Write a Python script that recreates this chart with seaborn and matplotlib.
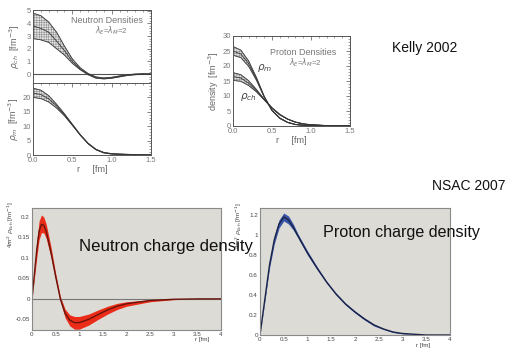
import numpy as np
import pandas as pd
import matplotlib
matplotlib.use("Agg")
import matplotlib.pyplot as plt
import seaborn as sns

# ---------------- data ----------------
# Kelly 2002 - neutron charge density rho_ch
kn_r = [0.0, 0.1, 0.2, 0.3, 0.4, 0.5, 0.6, 0.7, 0.8, 0.9, 1.0, 1.1, 1.2, 1.3, 1.4, 1.5]
kn_ch = [3.8, 3.6, 3.3, 2.6, 1.85, 1.0, 0.4, 0.0, -0.27, -0.34, -0.29, -0.18, -0.08, -0.02, 0.01, 0.0]
kn_ch_hi = [4.8, 4.6, 4.1, 3.3, 2.2, 1.2, 0.5, 0.05, -0.22, -0.3, -0.25, -0.14, -0.05, 0.01, 0.03, 0.02]
kn_ch_lo = [2.8, 2.7, 2.5, 2.0, 1.5, 0.85, 0.35, -0.05, -0.32, -0.38, -0.33, -0.22, -0.11, -0.05, -0.02, -0.02]
# Kelly 2002 - neutron magnetization density rho_m
kn_m = [21.5, 21.0, 19.5, 17.0, 14.0, 10.5, 7.0, 4.0, 1.9, 0.8, 0.4, 0.3, 0.2, 0.1, 0.05, 0.0]
kn_m_hi = [23.2, 22.5, 20.6, 17.6, 14.3, 10.7, 7.1, 4.1, 2.0, 0.9, 0.5, 0.35, 0.25, 0.15, 0.08, 0.03]
kn_m_lo = [20.0, 19.6, 18.4, 16.3, 13.6, 10.3, 6.9, 3.9, 1.8, 0.7, 0.3, 0.2, 0.12, 0.05, 0.02, 0.0]
# Kelly 2002 - proton densities
kp_r = [0.0, 0.1, 0.2, 0.3, 0.4, 0.5, 0.6, 0.7, 0.8, 0.9, 1.0, 1.2, 1.5]
kp_m = [25.0, 24.0, 20.8, 15.8, 9.8, 5.2, 2.6, 1.2, 0.5, 0.25, 0.1, 0.03, 0.0]
kp_m_hi = [26.5, 25.3, 21.7, 16.2, 9.9, 5.3, 2.7, 1.25, 0.55, 0.3, 0.12, 0.05, 0.01]
kp_m_lo = [23.6, 22.8, 19.9, 15.3, 9.6, 5.1, 2.5, 1.15, 0.45, 0.2, 0.08, 0.02, 0.0]
kp_ch = [16.5, 16.0, 14.3, 11.8, 8.8, 6.0, 3.8, 2.3, 1.3, 0.7, 0.4, 0.15, 0.02]
kp_ch_hi = [17.8, 17.1, 15.1, 12.2, 8.9, 6.1, 3.9, 2.35, 1.35, 0.75, 0.45, 0.17, 0.03]
kp_ch_lo = [15.2, 14.9, 13.5, 11.4, 8.7, 5.9, 3.7, 2.25, 1.25, 0.65, 0.35, 0.13, 0.01]

# NSAC 2007 - neutron charge density 4 pi r^2 rho
nn_r = [0.0, 0.05, 0.1, 0.15, 0.2, 0.25, 0.3, 0.4, 0.5, 0.6, 0.7, 0.8, 0.9, 1.0,
        1.2, 1.4, 1.6, 1.8, 2.0, 2.5, 3.0, 3.5, 4.0]
nn_c = [0.0, 0.06, 0.12, 0.165, 0.182, 0.18, 0.165, 0.115, 0.055, 0.0, -0.035, -0.052,
        -0.058, -0.058, -0.05, -0.038, -0.027, -0.018, -0.012, -0.004, -0.001, 0.0, 0.0]
nn_hi = [0.0, 0.07, 0.14, 0.19, 0.205, 0.2, 0.183, 0.128, 0.063, 0.006, -0.025, -0.039,
         -0.043, -0.043, -0.037, -0.027, -0.018, -0.011, -0.007, -0.002, 0.0, 0.0, 0.0]
nn_lo = [0.0, 0.05, 0.1, 0.145, 0.162, 0.161, 0.148, 0.102, 0.047, -0.007, -0.046, -0.066,
         -0.074, -0.074, -0.064, -0.05, -0.037, -0.026, -0.018, -0.007, -0.002, 0.0, 0.0]
# NSAC 2007 - proton charge density 4 pi r^2 rho
np_r = [0.0, 0.1, 0.2, 0.3, 0.4, 0.5, 0.6, 0.7, 0.8, 1.0, 1.2, 1.4, 1.6, 1.8, 2.0,
        2.2, 2.4, 2.6, 2.8, 3.0, 3.5, 4.0]
np_c = [0.0, 0.35, 0.7, 0.95, 1.11, 1.18, 1.15, 1.08, 0.99, 0.82, 0.67, 0.53, 0.41, 0.31,
        0.23, 0.16, 0.1, 0.06, 0.03, 0.015, 0.0, 0.0]
np_hi = [0.0, 0.37, 0.73, 0.99, 1.15, 1.22, 1.19, 1.11, 1.01, 0.84, 0.685, 0.54, 0.42, 0.32,
         0.24, 0.17, 0.11, 0.065, 0.035, 0.018, 0.0, 0.0]
np_lo = [0.0, 0.33, 0.67, 0.91, 1.07, 1.14, 1.11, 1.05, 0.97, 0.80, 0.655, 0.52, 0.40, 0.30,
         0.22, 0.15, 0.09, 0.055, 0.025, 0.012, 0.0, 0.0]

# ---------------- figure ----------------
sns.set_theme(style="white")
plt.rcParams["font.family"] = ["Liberation Sans", "DejaVu Sans"]
plt.rcParams["hatch.linewidth"] = 0.3
plt.rcParams["mathtext.fontset"] = "dejavusans"

W, H = 521, 352
fig = plt.figure(figsize=(W / 100, H / 100), dpi=100)
fig.patch.set_facecolor("white")


def add_ax(l, t, r, b):
    return fig.add_axes([l / W, 1 - b / H, (r - l) / W, (b - t) / H])


def kelly_style(ax, xt, yt):
    ax.set_facecolor("white")
    for s in ax.spines.values():
        s.set_color("#555555")
        s.set_linewidth(0.7)
    ax.tick_params(direction="in", top=True, right=True, length=3, width=0.5,
                   colors="#555555", labelsize=5.5, pad=1.5, labelcolor="#777777")
    ax.minorticks_on()
    ax.tick_params(which="minor", direction="in", top=True, right=True, length=1.5, width=0.4,
                   colors="#555555")
    ax.set_xticks(xt)
    ax.set_yticks(yt)


def nsac_style(ax):
    ax.set_facecolor("#dddbd5")
    for s in ax.spines.values():
        s.set_color("#8a8a8a")
        s.set_linewidth(0.8)
    ax.tick_params(direction="in", length=3, width=0.5, colors="#555555",
                   labelsize=4.5, pad=1.5, labelcolor="#444444")
    ax.minorticks_on()
    ax.tick_params(which="minor", direction="in", length=1.5, width=0.4, colors="#555555")


def band(ax, x, lo, hi, c, lo_hi_style="hatch"):
    if lo_hi_style == "hatch":
        ax.fill_between(x, lo, hi, facecolor="#e4e4e4", edgecolor="#777777", hatch="+++++++",
                        linewidth=0.5)
        ax.plot(x, lo, color="#444444", lw=0.6)
        ax.plot(x, hi, color="#444444", lw=0.6)
    else:
        ax.fill_between(x, lo, hi, color=c, linewidth=0)


# --- Kelly neutron top ---
ax1 = add_ax(33, 10, 151, 83)
kelly_style(ax1, [0, 0.5, 1.0, 1.5], [0, 1, 2, 3, 4, 5])
ax1.axhline(0, color="#555555", lw=0.8)
band(ax1, kn_r, kn_ch_lo, kn_ch_hi, None)
sns.lineplot(x=kn_r, y=kn_ch, ax=ax1, color="#333333", lw=0.6)
ax1.set_xlim(0, 1.5)
ax1.set_ylim(-0.7, 5.05)
ax1.set_xticklabels([])
ax1.set_ylabel(r"$\rho_{ch}$  [fm$^{-3}$]", fontsize=6.5, color="#666666", labelpad=3)
ax1.text(0.63, 0.86, "Neutron Densities", transform=ax1.transAxes, fontsize=6.5,
         color="#777777", ha="center", va="center")
ax1.text(0.66, 0.71, r"$\lambda_E$=$\lambda_M$=2", transform=ax1.transAxes, fontsize=5.5,
         color="#777777", ha="center", va="center")

# --- Kelly neutron bottom ---
ax2 = add_ax(33, 83, 151, 155)
kelly_style(ax2, [0, 0.5, 1.0, 1.5], [0, 5, 10, 15, 20])
band(ax2, kn_r, kn_m_lo, kn_m_hi, None)
sns.lineplot(x=kn_r, y=kn_m, ax=ax2, color="#333333", lw=0.6)
ax2.set_xlim(0, 1.5)
ax2.set_ylim(0, 25)
ax2.set_xticklabels(["0.0", "0.5", "1.0", "1.5"])
ax2.set_ylabel(r"$\rho_m$  [fm$^{-3}$]", fontsize=6.5, color="#666666", labelpad=1)
ax2.set_xlabel("r     [fm]", fontsize=6.5, color="#666666", labelpad=1)

# --- Kelly proton ---
ax3 = add_ax(233, 36, 350, 126)
kelly_style(ax3, [0, 0.5, 1.0, 1.5], [0, 5, 10, 15, 20, 25, 30])
band(ax3, kp_r, kp_m_lo, kp_m_hi, None)
band(ax3, kp_r, kp_ch_lo, kp_ch_hi, None)
sns.lineplot(x=kp_r, y=kp_m, ax=ax3, color="#333333", lw=0.6)
sns.lineplot(x=kp_r, y=kp_ch, ax=ax3, color="#333333", lw=0.6)
ax3.set_xlim(0, 1.5)
ax3.set_ylim(0, 30)
ax3.set_xticklabels(["0.0", "0.5", "1.0", "1.5"])
ax3.set_ylabel(r"density  [fm$^{-3}$]", fontsize=6.5, color="#666666", labelpad=1)
ax3.set_xlabel("r     [fm]", fontsize=6.5, color="#666666", labelpad=1)
ax3.text(0.6, 0.82, "Proton Densities", transform=ax3.transAxes, fontsize=6.5,
         color="#777777", ha="center", va="center")
ax3.text(0.62, 0.7, r"$\lambda_E$=$\lambda_M$=2", transform=ax3.transAxes, fontsize=5.5,
         color="#777777", ha="center", va="center")
ax3.text(0.27, 0.64, r"$\rho_m$", transform=ax3.transAxes, fontsize=7.5,
         color="#444444", ha="center", va="center")
ax3.text(0.13, 0.32, r"$\rho_{ch}$", transform=ax3.transAxes, fontsize=7.5,
         color="#444444", ha="center", va="center")

# --- NSAC neutron ---
ax4 = add_ax(32, 208, 221, 330)
nsac_style(ax4)
ax4.axhline(0, color="#777777", lw=0.8)
band(ax4, nn_r, nn_lo, nn_hi, "#ea2c18", "fill")
sns.lineplot(x=nn_r, y=nn_c, ax=ax4, color="#6a140c", lw=1.0)
ax4.set_xlim(0, 4)
ax4.set_ylim(-0.076, 0.222)
ax4.set_xticks([0, 0.5, 1, 1.5, 2, 2.5, 3, 3.5, 4])
ax4.set_xticklabels(["0", "0.5", "1", "1.5", "2", "2.5", "3", "3.5", "4"])
ax4.set_yticks([-0.05, 0, 0.05, 0.1, 0.15, 0.2])
ax4.set_yticklabels(["-0.05", "0", "0.05", "0.1", "0.15", "0.2"])
ax4.set_ylabel(r"4$\pi$r$^2$ $\rho_{Ech}$ [fm$^{-1}$]", fontsize=4.5, color="#444444",
               labelpad=2)
ax4.yaxis.set_label_coords(-0.085, 0.86)
ax4.set_xlabel("r [fm]", fontsize=4.5, color="#444444", labelpad=0)
ax4.xaxis.set_label_coords(0.9, -0.06)

# --- NSAC proton ---
ax5 = add_ax(260, 208, 450, 335)
nsac_style(ax5)
band(ax5, np_r, np_lo, np_hi, "#3a55a8", "fill")
sns.lineplot(x=np_r, y=np_c, ax=ax5, color="#1a2448", lw=1.0)
ax5.set_xlim(0, 4)
ax5.set_ylim(0, 1.27)
ax5.set_xticks([0, 0.5, 1, 1.5, 2, 2.5, 3, 3.5, 4])
ax5.set_xticklabels(["0", "0.5", "1", "1.5", "2", "2.5", "3", "3.5", "4"])
ax5.set_yticks([0, 0.2, 0.4, 0.6, 0.8, 1.0, 1.2])
ax5.set_yticklabels(["0", "0.2", "0.4", "0.6", "0.8", "1", "1.2"])
ax5.set_ylabel(r"4$\pi$r$^2$ $\rho_{Ech}$ [fm$^{-1}$]", fontsize=4.5, color="#444444")
ax5.yaxis.set_label_coords(-0.085, 0.86)
ax5.set_xlabel("r [fm]", fontsize=4.5, color="#444444", labelpad=0)
ax5.xaxis.set_label_coords(0.86, -0.06)

# --- big annotations ---
fig.text(79 / W, 1 - 247 / H, "Neutron charge density", fontsize=12.1, color="#111111",
         ha="left", va="center", zorder=10)
fig.text(323 / W, 1 - 233 / H, "Proton charge density", fontsize=11.6, color="#111111",
         ha="left", va="center", zorder=10)
fig.text(392 / W, 1 - 48 / H, "Kelly 2002", fontsize=10, color="#111111",
         ha="left", va="center")
fig.text(432 / W, 1 - 186 / H, "NSAC 2007", fontsize=10, color="#111111",
         ha="left", va="center")

fig.savefig("out.png", dpi=100)
